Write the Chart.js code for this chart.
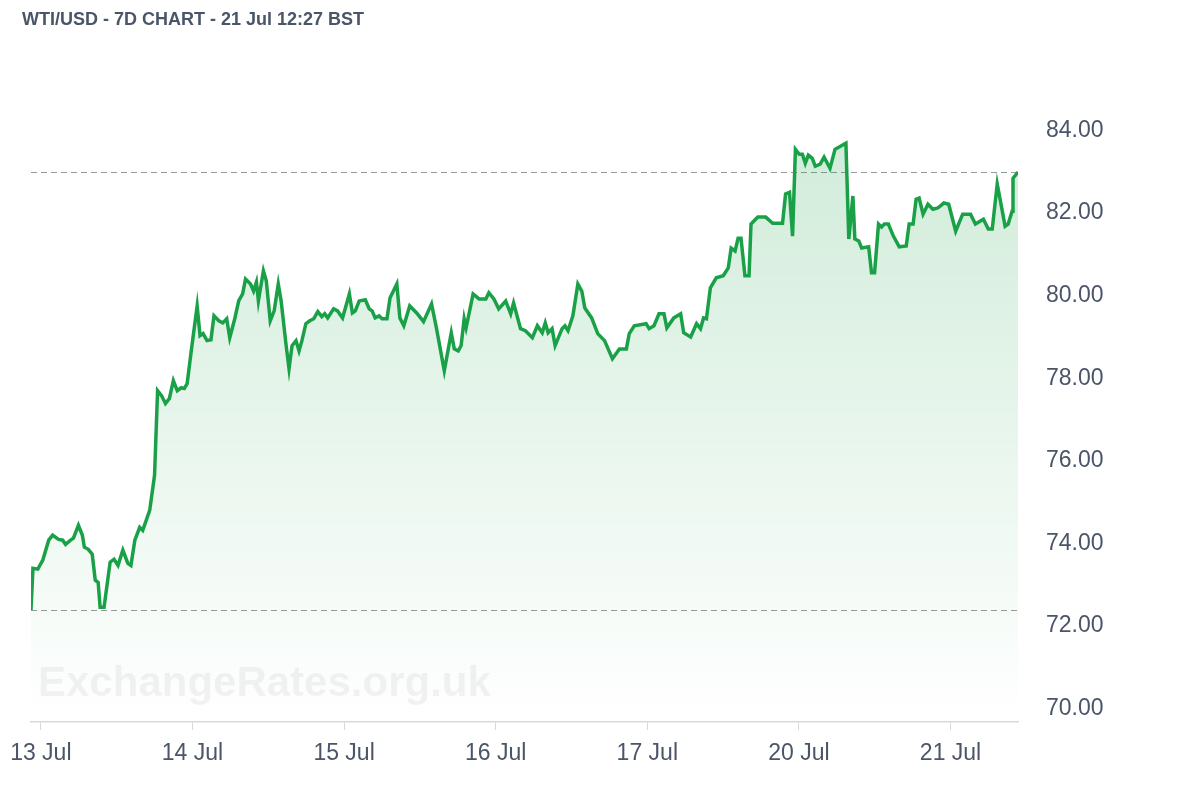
<!DOCTYPE html>
<html><head><meta charset="utf-8">
<script src="https://cdn.jsdelivr.net/npm/chart.js@4"></script>
<style>html,body{margin:0;padding:0;background:#fff}#w{width:1200px;height:800px;position:relative}</style>
</head><body><div id="w"><canvas id="c"></canvas></div>
<script>
const titleText = "WTI/USD - 7D CHART - 21 Jul 12:27 BST";
const dayLabels = ["13 Jul","14 Jul","15 Jul","16 Jul","17 Jul","20 Jul","21 Jul"];
const yTicks = [70,72,74,76,78,80,82,84];
const times = [-0.065,-0.052,-0.020,0.013,0.052,0.078,0.117,0.144,0.163,0.196,0.215,0.248,0.274,0.287,0.313,0.339,0.359,0.378,0.391,0.417,0.457,0.483,0.509,0.541,0.574,0.594,0.620,0.652,0.672,0.718,0.750,0.770,0.796,0.822,0.848,0.874,0.900,0.926,0.946,0.965,0.992,1.031,1.050,1.070,1.096,1.122,1.142,1.174,1.200,1.226,1.246,1.279,1.305,1.331,1.350,1.383,1.403,1.422,1.435,1.468,1.487,1.513,1.539,1.566,1.585,1.618,1.637,1.657,1.683,1.703,1.722,1.748,1.774,1.800,1.827,1.853,1.872,1.892,1.931,1.957,1.990,2.035,2.055,2.074,2.100,2.140,2.166,2.185,2.205,2.231,2.250,2.283,2.303,2.348,2.368,2.394,2.433,2.479,2.524,2.577,2.609,2.661,2.707,2.727,2.753,2.772,2.792,2.805,2.851,2.890,2.935,2.955,2.988,3.020,3.066,3.099,3.118,3.164,3.196,3.242,3.275,3.307,3.327,3.346,3.372,3.392,3.438,3.457,3.477,3.509,3.542,3.568,3.588,3.633,3.673,3.718,3.770,3.816,3.862,3.881,3.914,3.992,4.012,4.044,4.077,4.110,4.129,4.175,4.220,4.240,4.286,4.325,4.351,4.371,4.390,4.416,4.455,4.501,4.534,4.553,4.579,4.599,4.618,4.644,4.671,4.684,4.729,4.781,4.827,4.892,4.912,4.938,4.958,4.977,5.003,5.023,5.042,5.062,5.088,5.108,5.140,5.166,5.205,5.238,5.310,5.329,5.356,5.369,5.395,5.414,5.460,5.479,5.499,5.525,5.545,5.564,5.590,5.623,5.662,5.708,5.727,5.753,5.773,5.793,5.819,5.851,5.884,5.916,5.956,5.988,6.034,6.080,6.132,6.164,6.217,6.249,6.275,6.308,6.360,6.380,6.406,6.412,6.445];
const prices = [72.39,73.40,73.38,73.60,74.08,74.20,74.10,74.08,73.98,74.08,74.13,74.44,74.20,73.91,73.86,73.74,73.11,73.06,72.46,72.46,73.55,73.62,73.47,73.84,73.52,73.47,74.08,74.39,74.32,74.80,75.65,77.70,77.58,77.39,77.51,77.94,77.70,77.77,77.75,77.87,78.66,79.75,79.03,79.08,78.91,78.93,79.51,79.39,79.34,79.44,78.98,79.44,79.87,80.04,80.40,80.28,80.11,80.33,79.87,80.60,80.36,79.39,79.63,80.28,79.87,78.79,78.23,78.79,78.91,78.66,78.91,79.32,79.39,79.44,79.61,79.49,79.56,79.46,79.68,79.63,79.46,80.04,79.58,79.63,79.87,79.90,79.68,79.63,79.46,79.51,79.44,79.44,79.94,80.28,79.46,79.27,79.75,79.58,79.37,79.80,79.22,78.18,79.10,78.71,78.66,78.79,79.44,79.22,80.04,79.92,79.92,80.07,79.92,79.68,79.87,79.56,79.82,79.20,79.15,78.98,79.27,79.10,79.34,79.10,79.20,78.79,79.20,79.27,79.15,79.51,80.28,80.11,79.70,79.46,79.08,78.91,78.47,78.71,78.71,79.08,79.27,79.32,79.20,79.27,79.56,79.56,79.22,79.46,79.56,79.10,79.00,79.32,79.20,79.46,79.44,80.19,80.43,80.48,80.67,81.15,81.08,81.39,81.39,80.48,80.48,81.73,81.90,81.90,81.75,81.75,82.46,82.50,81.44,83.54,83.42,83.42,83.20,83.40,83.32,83.13,83.18,83.35,83.08,83.54,83.69,81.37,82.41,81.37,81.32,81.15,81.18,80.55,80.55,81.73,81.66,81.73,81.73,81.44,81.18,81.20,81.73,81.73,82.33,82.36,81.97,82.21,82.09,82.12,82.24,82.21,81.56,81.97,81.97,81.73,81.85,81.61,81.61,82.70,81.68,81.73,82.04,82.84,82.99];

const pts = times.map((t,i)=>({x:t,y:prices[i]}));
const lowRef = Math.min(...prices);
const lastRef = prices[prices.length-1];
const FONT = '"Liberation Sans", Arial, sans-serif';

const extras = {
  id:'extras',
  beforeDatasetsDraw(chart){
    const {ctx, chartArea:a, scales:{x,y}} = chart;
    ctx.save();
    ctx.font = 'bold 42px ' + FONT;
    ctx.fillStyle = 'rgba(0,0,0,0.05)';
    ctx.textBaseline = 'middle';
    ctx.fillText('ExchangeRates.org.uk', 38, 684);
    ctx.setLineDash([6,4]);
    ctx.strokeStyle = '#999';
    ctx.lineWidth = 1.2;
    [lowRef,lastRef].forEach(v=>{
      const py = Math.round(y.getPixelForValue(v))+0.5;
      ctx.beginPath(); ctx.moveTo(a.left,py); ctx.lineTo(a.right,py); ctx.stroke();
    });
    ctx.restore();
  },
  afterDraw(chart){
    const {ctx} = chart;
    ctx.save();
    ctx.font = 'bold 18px ' + FONT;
    ctx.fillStyle = '#4a5568';
    ctx.textBaseline = 'middle';
    ctx.fillText(titleText, 22, 20);
    ctx.restore();
  }
};

new Chart(document.getElementById('c'), {
  type:'line',
  data:{datasets:[{
    data:pts,
    borderColor:'#1aa148',
    borderWidth:3.5,
    pointRadius:0,
    tension:0,
    fill:'start',
    backgroundColor(ctx){
      const c = ctx.chart, a = c.chartArea;
      if(!a) return 'rgba(26,161,72,0.15)';
      const g = c.ctx.createLinearGradient(0,a.top,0,a.bottom);
      g.addColorStop(0,'rgba(26,161,72,0.22)');
      g.addColorStop(1,'rgba(26,161,72,0.0)');
      return g;
    }
  }]},
  options:{
    responsive:true, maintainAspectRatio:false, animation:false,
    layout:{padding:{top:89,left:15,right:0,bottom:0}},
    plugins:{legend:{display:false},tooltip:{enabled:false}},
    scales:{
      x:{type:'linear',min:-0.065,max:6.445,
        afterBuildTicks(s){s.ticks = dayLabels.map((_,i)=>({value:i}));},
        afterFit(s){s.height = 78;},
        ticks:{callback:(v)=>dayLabels[v],font:{size:23,family:FONT},color:'#4a5568',maxRotation:0,autoSkip:false,padding:10},
        grid:{display:true,drawOnChartArea:false,tickLength:8,color:'#d5d9de'},
        border:{display:true,color:'#d5d9de',width:1.5}
      },
      y:{position:'right',min:69.68,max:85,
        afterBuildTicks(s){s.ticks = yTicks.map(v=>({value:v}));},
        afterFit(s){s.width = 182;},
        ticks:{callback:(v)=>v.toFixed(2),font:{size:23,family:FONT},color:'#4a5568',padding:20},
        grid:{display:false},
        border:{display:false}
      }
    }
  },
  plugins:[extras]
});
</script></body></html>
